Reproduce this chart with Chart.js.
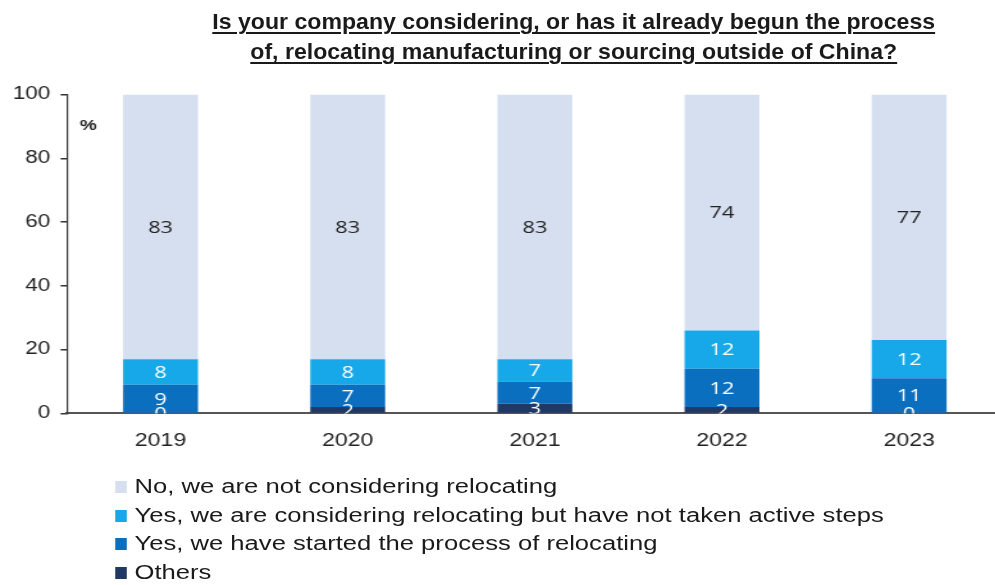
<!DOCTYPE html>
<html>
<head>
<meta charset="utf-8">
<script src="https://cdn.jsdelivr.net/npm/chart.js@4.4.1/dist/chart.umd.min.js"></script>
<style>
  html, body { margin: 0; padding: 0; background: #fff; overflow: hidden; }
  body { width: 995px; height: 585px; position: relative; }
  /* everything is laid out narrow and widened as one block */
  #stage { position: absolute; left: 0; top: 0; width: 778px; height: 585px; transform: scaleX(1.2806); transform-origin: 0 0; }
  #title {
    position: absolute; left: 48px; top: 7px; width: 800px;
    text-align: center; font-family: "Liberation Sans", Arial, sans-serif;
    font-weight: bold; font-size: 22px; line-height: 30px; color: #1a1a1a;
    text-decoration: underline; text-decoration-thickness: 2px; text-underline-offset: 3px;
    transform: scaleX(0.82); transform-origin: 50% 0;
  }
  #wrap { position: absolute; left: 0; top: 76px; width: 783px; height: 385px; }
  #legend {
    position: absolute; left: 90px; top: 472px;
    font-family: "Liberation Sans", Arial, sans-serif; font-size: 20px; line-height: 28.7px; color: #1a1a1a;
  }
  #legend div { white-space: nowrap; }
  #legend span { display: inline-block; width: 9px; height: 12px; margin-right: 6px; vertical-align: 0px; }
</style>
</head>
<body>
<div id="stage">
  <div id="title">Is your company considering, or has it already begun the process<br>of, relocating manufacturing or sourcing outside of China?</div>
  <div id="wrap"><canvas id="myChart"></canvas></div>
  <div id="legend"></div>
</div>
<script>
// years along the x-axis
var years = ["2019", "2020", "2021", "2022", "2023"];
// shares in %, stacked from the bottom up
var others = [0, 2, 3, 2, 0];
var started = [9, 7, 7, 12, 11];
var considering = [8, 8, 7, 12, 12];
var notConsidering = [83, 83, 83, 74, 77];
var yTicks = [0, 20, 40, 60, 80, 100];

var series = [
  { data: others, label: "Others", backgroundColor: "#1f3864", text: "#ffffff" },
  { data: started, label: "Yes, we have started the process of relocating", backgroundColor: "#0b6fc0", text: "#ffffff" },
  { data: considering, label: "Yes, we are considering relocating but have not taken active steps", backgroundColor: "#16a8e8", text: "#ffffff" },
  { data: notConsidering, label: "No, we are not considering relocating", backgroundColor: "#d6dff0", text: "#222222" }
];

// numbers in the middle of each segment, cut off at the axis
var segmentLabels = {
  id: "segmentLabels",
  afterDatasetsDraw: function (chart) {
    var ctx = chart.ctx;
    var area = chart.chartArea;
    ctx.save();
    ctx.beginPath();
    ctx.rect(area.left, area.top, area.right - area.left, area.bottom - area.top);
    ctx.clip();
    ctx.font = "17px 'Open Sans', sans-serif";
    ctx.textAlign = "center";
    ctx.textBaseline = "middle";
    chart.data.datasets.forEach(function (ds, i) {
      chart.getDatasetMeta(i).data.forEach(function (bar, j) {
        var p = bar.getProps(["x", "y", "base"], true);
        ctx.fillStyle = ds.text;
        ctx.fillText(String(ds.data[j]), p.x, (p.y + p.base) / 2 + 1);
      });
    });
    ctx.restore();
    // unit mark
    ctx.save();
    ctx.font = "bold 15px 'Liberation Sans', sans-serif";
    ctx.fillStyle = "#222";
    ctx.textAlign = "left";
    ctx.textBaseline = "middle";
    ctx.fillText("%", area.left + 10, area.top + 31);
    ctx.restore();
  }
};

var ctx = document.getElementById("myChart");
var myChart = new Chart(ctx, {
  type: "bar",
  data: {
    labels: years,
    datasets: series.map(function (s) {
      return {
        data: s.data, label: s.label, backgroundColor: s.backgroundColor, text: s.text,
        barPercentage: 0.4, categoryPercentage: 1.0, borderWidth: 0
      };
    })
  },
  options: {
    responsive: true,
    maintainAspectRatio: false,
    animation: false,
    layout: { padding: { top: 10, right: 0, left: 0, bottom: 0 } },
    plugins: { legend: { display: false }, tooltip: { enabled: false } },
    scales: {
      x: {
        stacked: true,
        grid: { display: false },
        border: { display: true, color: "#555", width: 2 },
        ticks: { color: "#222", font: { family: "Liberation Sans", size: 18 }, padding: 9 }
      },
      y: {
        stacked: true,
        min: 0, max: 100,
        afterFit: function (s) { s.width = 52.3; },
        afterBuildTicks: function (s) { s.ticks = yTicks.map(function (v) { return { value: v }; }); },
        grid: { drawOnChartArea: false, drawTicks: true, tickLength: 5, color: "#333", lineWidth: 1.5 },
        border: { display: true, color: "#333", width: 1.2 },
        ticks: { color: "#222", font: { family: "Liberation Sans", size: 17.5 }, padding: 8 }
      }
    }
  },
  plugins: [segmentLabels]
});

// legend, top segment first
var legend = document.getElementById("legend");
series.slice().reverse().forEach(function (s) {
  var row = document.createElement("div");
  var box = document.createElement("span");
  box.style.background = s.backgroundColor;
  row.appendChild(box);
  row.appendChild(document.createTextNode(s.label));
  legend.appendChild(row);
});
</script>
</body>
</html>
